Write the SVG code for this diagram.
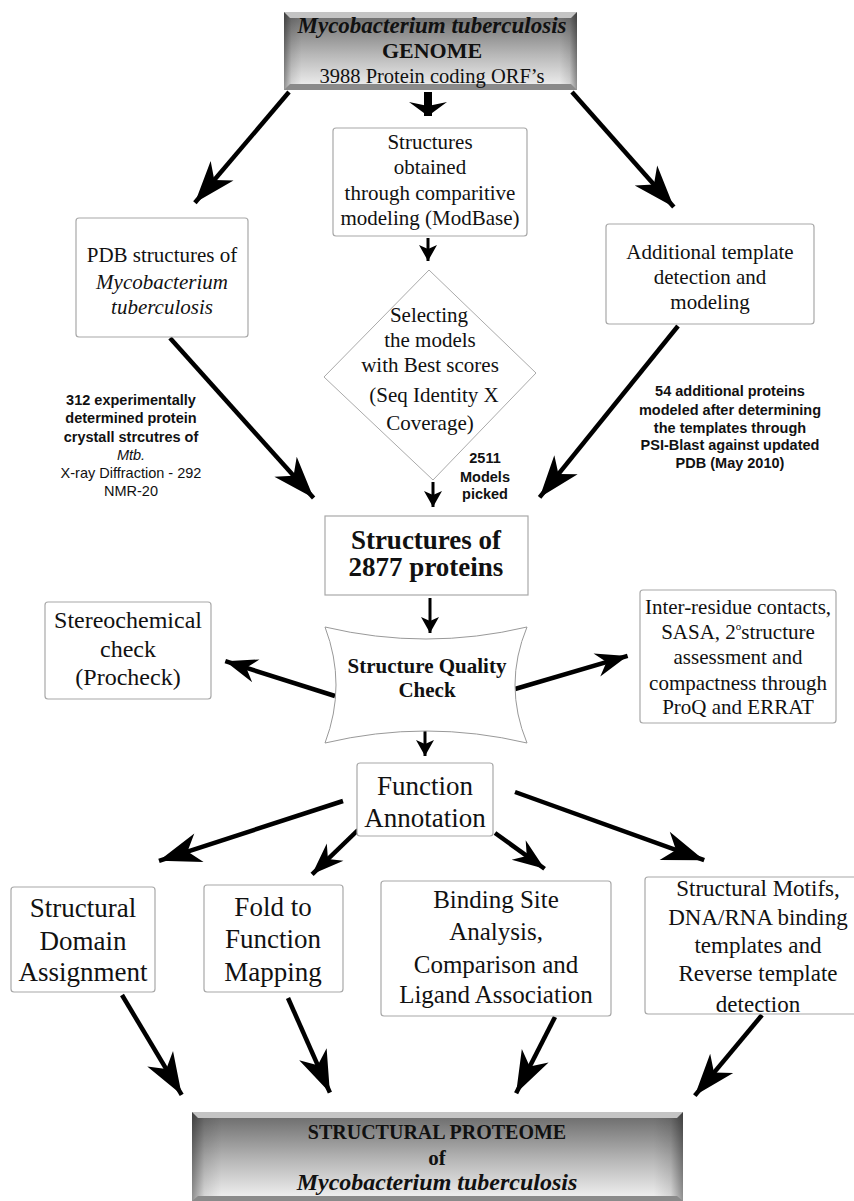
<svg xmlns="http://www.w3.org/2000/svg" width="854" height="1201" viewBox="0 0 854 1201">
<style>
.box{fill:#fff;stroke:#a8a8a8;stroke-width:1.2}
.t{font-family:"Liberation Serif","Times New Roman",serif;fill:#111;text-anchor:middle}
.b{font-weight:bold}
.s{font-family:"Liberation Sans",Arial,sans-serif;fill:#111;text-anchor:middle;font-size:14.5px}
.big{stroke:#000;stroke-width:4.5;fill:none;marker-end:url(#hb)}
.med{stroke:#000;stroke-width:4.5;fill:none;marker-end:url(#hm)}
.sm{stroke:#000;stroke-width:3;fill:none;marker-end:url(#hs)}
</style>
<defs>
<marker id="hb" markerUnits="userSpaceOnUse" viewBox="-44 -17 46 34" refX="0" refY="0" markerWidth="46" markerHeight="34" orient="auto">
<path d="M0,0 L-42,-15 L-30,0 L-42,15 Z" fill="#000"/>
</marker>
<marker id="hm" markerUnits="userSpaceOnUse" viewBox="-34 -14 36 28" refX="0" refY="0" markerWidth="36" markerHeight="28" orient="auto">
<path d="M0,0 L-32,-12 L-22,0 L-32,12 Z" fill="#000"/>
</marker>
<marker id="hs" markerUnits="userSpaceOnUse" viewBox="-18 -10 20 20" refX="0" refY="0" markerWidth="20" markerHeight="20" orient="auto">
<path d="M0,0 L-16,-9 L-12,0 L-16,9 Z" fill="#000"/>
</marker>
<marker id="hw" markerUnits="userSpaceOnUse" viewBox="-18 -21 20 42" refX="0" refY="0" markerWidth="20" markerHeight="42" orient="auto">
<path d="M0,0 L-14,-19 L-10,0 L-14,19 Z" fill="#000"/>
</marker>
<linearGradient id="gv" x1="0" y1="0" x2="0" y2="1">
<stop offset="0" stop-color="#666"/>
<stop offset="0.55" stop-color="#b8b8b8"/>
<stop offset="1" stop-color="#f4f4f4"/>
</linearGradient>
<linearGradient id="gh" x1="0" y1="0" x2="1" y2="0">
<stop offset="0" stop-color="#000" stop-opacity="0.4"/>
<stop offset="0.025" stop-color="#000" stop-opacity="0.1"/>
<stop offset="0.06" stop-color="#000" stop-opacity="0"/>
<stop offset="0.94" stop-color="#000" stop-opacity="0"/>
<stop offset="0.975" stop-color="#000" stop-opacity="0.1"/>
<stop offset="1" stop-color="#000" stop-opacity="0.4"/>
</linearGradient>
</defs>
<rect width="854" height="1201" fill="#fff"/>

<g id="connectors">
<line x1="428" y1="92" x2="428" y2="116" stroke="#000" stroke-width="8" marker-end="url(#hw)"/>
<line class="big" x1="289" y1="92" x2="194.9" y2="202.8"/>
<line class="big" x1="572" y1="92" x2="673.8" y2="207"/>
<line class="sm" x1="428" y1="238" x2="428" y2="261"/>
<line class="sm" x1="433" y1="482" x2="433" y2="507"/>
<line class="big" x1="170" y1="338" x2="313.6" y2="498.1"/>
<line class="big" x1="678" y1="326" x2="539.6" y2="497.4"/>
<line class="sm" x1="430" y1="598" x2="430" y2="633"/>
<line class="med" x1="335" y1="696" x2="225.3" y2="661.2"/>
<line class="med" x1="515" y1="689" x2="627.6" y2="655.9"/>
<line class="sm" x1="425" y1="729" x2="425" y2="756"/>
<line class="big" x1="343" y1="801" x2="159" y2="860.8"/>
<line class="med" x1="358" y1="830" x2="312.1" y2="874.3"/>
<line class="med" x1="495" y1="833" x2="544.6" y2="868.8"/>
<line class="big" x1="515" y1="792" x2="704.2" y2="860.2"/>
<line class="big" x1="122" y1="995" x2="181.7" y2="1094.8"/>
<line class="big" x1="288" y1="998" x2="329.9" y2="1092.7"/>
<line class="big" x1="555" y1="1017" x2="516.1" y2="1093.2"/>
<line class="big" x1="762" y1="1015" x2="694.8" y2="1095.6"/>
</g>

<g id="genome">
<rect x="284" y="12" width="293" height="78" fill="url(#gv)"/>
<rect x="284" y="12" width="293" height="78" fill="url(#gh)"/>
<polygon points="284,12 577,12 571,18 290,18" fill="#c4c4c4"/>
<polygon points="290,84 571,84 577,90 284,90" fill="#8a8a8a"/>
<text class="t b" x="432" y="33" font-size="23" font-style="italic">Mycobacterium tuberculosis</text>
<text class="t b" x="432" y="58" font-size="22">GENOME</text>
<text class="t" x="432" y="83" font-size="20.5">3988 Protein coding ORF’s</text>
</g>

<g id="modbase">
<rect class="box" x="333" y="128" width="194" height="108" rx="3"/>
<text class="t" x="430" y="149" font-size="21">Structures</text>
<text class="t" x="430" y="174" font-size="21">obtained</text>
<text class="t" x="430" y="200" font-size="21">through comparitive</text>
<text class="t" x="430" y="225" font-size="21">modeling (ModBase)</text>
</g>

<g id="pdb">
<rect class="box" x="76" y="218" width="172" height="119" rx="3"/>
<text class="t" x="162" y="262" font-size="21">PDB structures of</text>
<text class="t" x="162" y="289" font-size="21" font-style="italic">Mycobacterium</text>
<text class="t" x="162" y="314" font-size="21" font-style="italic">tuberculosis</text>
</g>

<g id="additional">
<rect class="box" x="606" y="224" width="208" height="100" rx="3"/>
<text class="t" x="710" y="259" font-size="21">Additional template</text>
<text class="t" x="710" y="284" font-size="21">detection and</text>
<text class="t" x="710" y="309" font-size="21">modeling</text>
</g>

<g id="selecting">
<polygon points="429,270 536,373 433,480 324,377" fill="#fff" stroke="#aaa" stroke-width="1"/>
<text class="t" x="429" y="322" font-size="21">Selecting</text>
<text class="t" x="430" y="347" font-size="21">the models</text>
<text class="t" x="430" y="372" font-size="21">with Best scores</text>
<text class="t" x="434" y="402" font-size="21">(Seq Identity X</text>
<text class="t" x="430" y="430" font-size="21">Coverage)</text>
</g>

<g id="label-left">
<text class="s b" x="131" y="405">312 experimentally</text>
<text class="s b" x="131" y="423">determined protein</text>
<text class="s b" x="131" y="442">crystall strcutres of</text>
<text class="s" x="131" y="460" font-style="italic">Mtb.</text>
<text class="s" x="131" y="478">X-ray Diffraction - 292</text>
<text class="s" x="131" y="496">NMR-20</text>
</g>

<g id="label-models">
<text class="s b" x="485" y="463">2511</text>
<text class="s b" x="485" y="482">Models</text>
<text class="s b" x="485" y="499">picked</text>
</g>

<g id="label-right">
<text class="s b" x="730" y="396">54 additional proteins</text>
<text class="s b" x="730" y="415">modeled after determining</text>
<text class="s b" x="730" y="433">the templates through</text>
<text class="s b" x="730" y="450">PSI-Blast against updated</text>
<text class="s b" x="730" y="468">PDB (May 2010)</text>
</g>

<g id="structures2877">
<rect class="box" x="325" y="516" width="203" height="79"/>
<text class="t b" x="426" y="549" font-size="27">Structures of</text>
<text class="t b" x="426" y="576" font-size="27">2877 proteins</text>
</g>

<g id="sqc">
<path d="M325,627 Q426,651 527,627 Q503,685 527,743 Q426,719 325,743 Q347,685 325,627 Z" fill="#fff" stroke="#999" stroke-width="1"/>
<text class="t b" x="427" y="673" font-size="21">Structure Quality</text>
<text class="t b" x="427" y="697" font-size="21">Check</text>
</g>

<g id="stereo">
<rect class="box" x="45" y="602" width="166" height="97" rx="3"/>
<text class="t" x="128" y="628" font-size="24">Stereochemical</text>
<text class="t" x="128" y="657" font-size="24">check</text>
<text class="t" x="128" y="685" font-size="24">(Procheck)</text>
</g>

<g id="interresidue">
<rect class="box" x="640" y="590" width="196" height="133" rx="3"/>
<text class="t" x="738" y="614" font-size="21">Inter-residue contacts,</text>
<text class="t" x="738" y="639" font-size="21">SASA, 2<tspan font-size="11" dy="-9">o</tspan><tspan dy="9">structure</tspan></text>
<text class="t" x="738" y="664" font-size="21">assessment and</text>
<text class="t" x="738" y="690" font-size="21">compactness through</text>
<text class="t" x="738" y="714" font-size="21">ProQ and ERRAT</text>
</g>

<g id="function">
<rect class="box" x="357" y="763" width="136" height="73" rx="3"/>
<text class="t" x="425" y="795" font-size="27">Function</text>
<text class="t" x="425" y="827" font-size="27">Annotation</text>
</g>

<g id="domain">
<rect class="box" x="11" y="887" width="144" height="105" rx="3"/>
<text class="t" x="83" y="917" font-size="27">Structural</text>
<text class="t" x="83" y="950" font-size="27">Domain</text>
<text class="t" x="83" y="981" font-size="27">Assignment</text>
</g>

<g id="fold">
<rect class="box" x="204" y="885" width="139" height="107" rx="3"/>
<text class="t" x="273" y="916" font-size="27">Fold to</text>
<text class="t" x="273" y="948" font-size="27">Function</text>
<text class="t" x="273" y="981" font-size="27">Mapping</text>
</g>

<g id="binding">
<rect class="box" x="381" y="881" width="230" height="135" rx="3"/>
<text class="t" x="496" y="908" font-size="25">Binding Site</text>
<text class="t" x="496" y="940" font-size="25">Analysis,</text>
<text class="t" x="496" y="973" font-size="25">Comparison and</text>
<text class="t" x="496" y="1003" font-size="25">Ligand Association</text>
</g>

<g id="motifs">
<rect class="box" x="645" y="877" width="215" height="137" rx="3"/>
<text class="t" x="758" y="896" font-size="23">Structural Motifs,</text>
<text class="t" x="758" y="925" font-size="23">DNA/RNA binding</text>
<text class="t" x="758" y="953" font-size="23">templates and</text>
<text class="t" x="758" y="981" font-size="23">Reverse template</text>
<text class="t" x="758" y="1012" font-size="23">detection</text>
</g>

<g id="proteome">
<rect x="192" y="1112" width="491" height="89" fill="url(#gv)"/>
<rect x="192" y="1112" width="491" height="89" fill="url(#gh)"/>
<polygon points="192,1112 683,1112 677,1118 198,1118" fill="#c4c4c4"/>
<polygon points="198,1196 677,1196 683,1201 192,1201" fill="#8a8a8a"/>
<text class="t b" x="437" y="1139" font-size="20">STRUCTURAL PROTEOME</text>
<text class="t b" x="437" y="1165" font-size="21">of</text>
<text class="t b" x="437" y="1190" font-size="24" font-style="italic">Mycobacterium tuberculosis</text>
</g>
</svg>
